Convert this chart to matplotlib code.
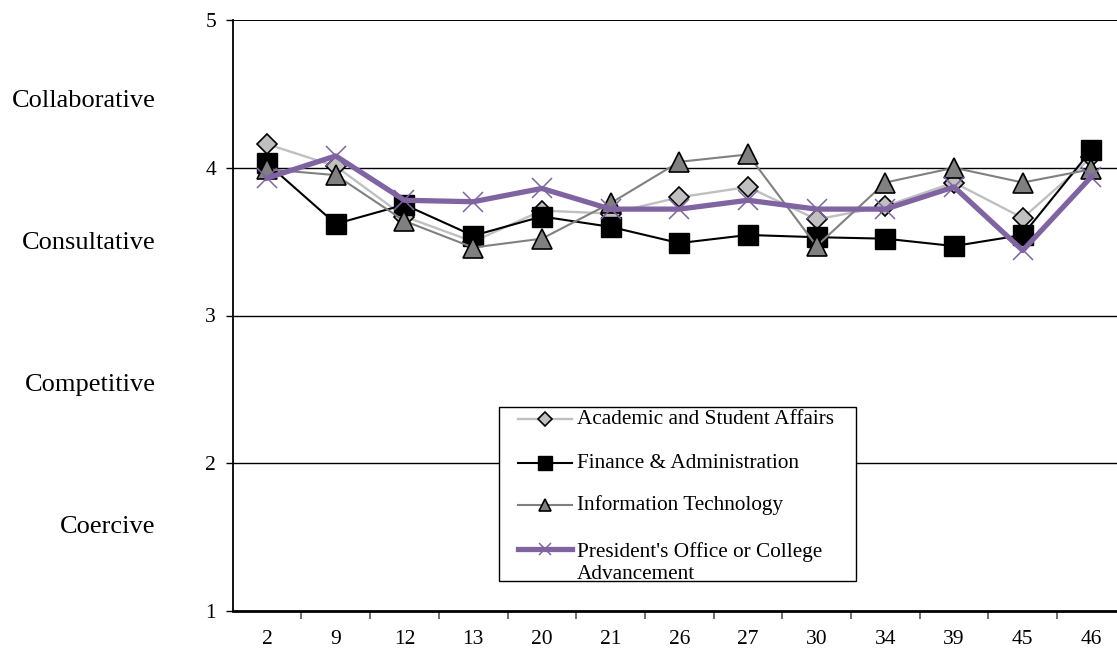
import matplotlib
matplotlib.use("Agg")
import matplotlib.pyplot as plt
from matplotlib.lines import Line2D
from matplotlib.patches import Rectangle

# ---- data -------------------------------------------------------------
categories = ["2", "9", "12", "13", "20", "21", "26", "27", "30", "34", "39", "45", "46"]

academic = [4.16, 4.01, 3.67, 3.50, 3.71, 3.69, 3.80, 3.87, 3.65, 3.74, 3.90, 3.66, 4.07]
finance = [4.03, 3.62, 3.75, 3.54, 3.67, 3.60, 3.49, 3.545, 3.53, 3.52, 3.47, 3.545, 4.12]
info_tech = [3.99, 3.95, 3.64, 3.46, 3.52, 3.76, 4.04, 4.09, 3.47, 3.90, 4.00, 3.90, 3.99]
president = [3.93, 4.08, 3.78, 3.77, 3.86, 3.72, 3.72, 3.78, 3.72, 3.72, 3.87, 3.44, 3.94]

y_ticks = [1, 2, 3, 4, 5]
style_labels = ["Collaborative", "Consultative", "Competitive", "Coercive"]
style_levels = [4.45, 3.49, 2.53, 1.57]

series_names = [
    "Academic and Student Affairs",
    "Finance & Administration",
    "Information Technology",
    "President's Office or College\nAdvancement",
]

# ---- figure -----------------------------------------------------------
W, H = 1117, 648
DPI = 100
FONT = "Liberation Serif"
plt.rcParams["font.family"] = [FONT, "DejaVu Serif"]

fig = plt.figure(figsize=(W / DPI, H / DPI), dpi=DPI)


def fx(px):
    return px / W


def fy(py):
    return 1 - py / H


# plot area extends slightly past the right border of the canvas
left_px, right_px = 232.7, 232.7 + 13 * 68.7
top_px, bottom_px = 20, 611
ax = fig.add_axes([fx(left_px), fy(bottom_px), fx(right_px - left_px), (bottom_px - top_px) / H])

x = list(range(len(categories)))

styles = [
    dict(color="#c0c0c0", lw=1.7, marker="D", ms=10, mfc="#c0c0c0", mec="black", mew=1.2),
    dict(color="black", lw=1.5, marker="s", ms=14, mfc="black", mec="black", mew=1.0),
    dict(color="#808080", lw=1.5, marker="^", ms=14, mfc="#808080", mec="black", mew=1.2),
    dict(color="#8064a2", lw=3.8, marker="x", ms=14, mfc="#8064a2", mec="#8064a2", mew=1.1),
]
series = [academic, finance, info_tech, president]

for vals, st, z in zip(series, styles, [3, 4, 5, 6]):
    ax.plot(x, vals, zorder=z, clip_on=False, **st)

ax.set_xlim(-0.5, len(categories) - 0.5)
ax.set_ylim(1, 5)

# horizontal gridlines
for yv in y_ticks[1:]:
    ax.axhline(yv, color="black", lw=1.0 if yv < 5 else 1.4, zorder=1)

for side in ["top", "right"]:
    ax.spines[side].set_visible(False)
ax.spines["left"].set_linewidth(1.3)
ax.spines["bottom"].set_linewidth(2.0)

ax.set_yticks(y_ticks)
ax.set_yticklabels([str(v) for v in y_ticks], fontsize=15.5)
ax.tick_params(axis="y", length=5, width=1.0, pad=7, direction="out")

ax.set_xticks(x)
ax.set_xticklabels(categories, fontsize=15.5)
ax.set_xticks([i + 0.5 for i in range(len(categories) - 1)], minor=True)
ax.tick_params(axis="x", which="major", length=0, pad=14)
ax.tick_params(axis="x", which="minor", length=6, width=1.2, color="#555555", direction="out")

# style labels left of the value axis
for lab, lvl in zip(style_labels, style_levels):
    ax.text(-0.5 - 77 / 68.7, lvl, lab, ha="right", va="center", fontsize=19,
            transform=ax.transData, clip_on=False)

# ---- legend box -------------------------------------------------------
box_l, box_t, box_r, box_b = 499, 407, 855.7, 581
fig.patches.append(Rectangle((fx(box_l), fy(box_b)), fx(box_r - box_l), (box_b - box_t) / H,
                             transform=fig.transFigure, facecolor="white",
                             edgecolor="black", lw=1.0, zorder=10))

row_y = [419, 463, 505, 549]
legend_ms = [7, 10, 8, 9]
for name, st, ry, lms in zip(series_names, styles, row_y, legend_ms):
    st_leg = dict(st)
    st_leg["ms"] = lms
    fig.add_artist(Line2D([fx(518), fx(572)], [fy(ry), fy(ry)], transform=fig.transFigure,
                          zorder=11, markevery=[], **st_leg))
    fig.add_artist(Line2D([fx(545)], [fy(ry)], transform=fig.transFigure, zorder=12,
                          linestyle="none",
                          **{k: v for k, v in st_leg.items() if k not in ("color", "lw")}))
    if "\n" in name:
        fig.text(fx(577), fy(ry + 14), name, ha="left", va="center", fontsize=15.3,
                 linespacing=1.25, zorder=12)
    else:
        fig.text(fx(577), fy(ry), name, ha="left", va="center", fontsize=15.3, zorder=12)

fig.savefig("out.png", dpi=DPI)
